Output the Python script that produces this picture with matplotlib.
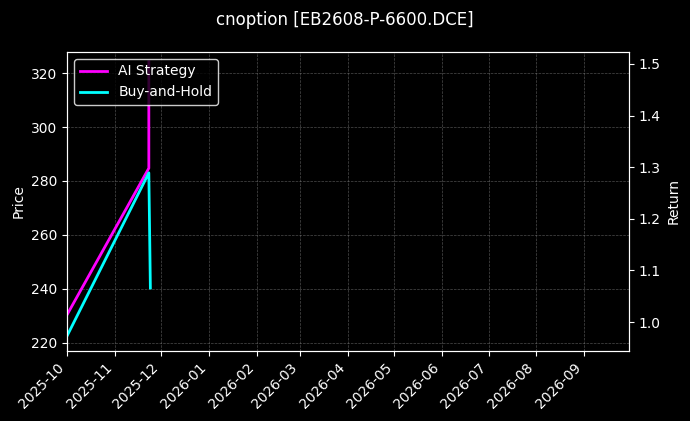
import matplotlib
matplotlib.use("Agg")
import matplotlib.pyplot as plt
import matplotlib.dates as mdates
import pandas as pd

dates = pd.to_datetime(["2025-10-01", "2025-11-23", "2025-11-23"])
ai_ret = [1.014, 1.298, 1.504]
bh_dates = pd.to_datetime(["2025-10-01", "2025-11-23", "2025-11-24"])
bh_ret = [0.973, 1.289, 1.066]
title = "cnoption [EB2608-P-6600.DCE]"

plt.style.use("dark_background")
fig = plt.figure(figsize=(6.9, 4.21), dpi=100)
fig.patch.set_facecolor("black")
ax = fig.add_axes([67/690, 1-351/421, (629-67)/690, (351-52)/421])
ax.set_facecolor("black")
ax.set_ylim(217.0, 327.8)
ax.set_ylabel("Price")
ax2 = ax.twinx()
ax2.plot(dates, ai_ret, color="#ff00ff", lw=2, label="AI Strategy")
ax2.plot(bh_dates, bh_ret, color="#00ffff", lw=2, label="Buy-and-Hold")
ax2.set_ylim(0.944, 1.523)
ax2.set_ylabel("Return")
ax.set_xlim(pd.Timestamp("2025-10-01"), pd.Timestamp("2026-09-30"))
ax2.set_xlim(pd.Timestamp("2025-10-01"), pd.Timestamp("2026-09-30"))
ax.xaxis.set_major_locator(mdates.MonthLocator())
ax.xaxis.set_major_formatter(mdates.DateFormatter("%Y-%m"))
plt.setp(ax.get_xticklabels(), rotation=45, ha="right")
ax.grid(True, color="gray", ls="--", lw=0.5, alpha=0.6)
ax2.legend(loc="upper left", facecolor="black", edgecolor="white")
fig.suptitle(title, fontsize=12, y=0.975)
fig.savefig("out.png", dpi=100, facecolor="black")
